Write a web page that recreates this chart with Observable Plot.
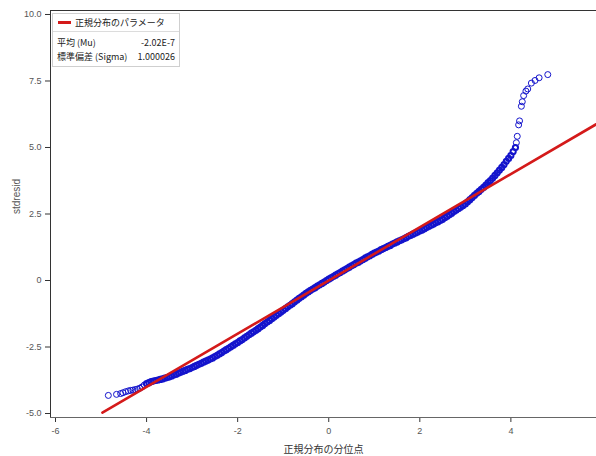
<!DOCTYPE html>
<html>
<head>
<meta charset="utf-8">
<script src="https://cdn.jsdelivr.net/npm/d3@7"></script>
<script src="https://cdn.jsdelivr.net/npm/@observablehq/plot@0.6"></script>
<style>
  html, body { margin: 0; padding: 0; background: #fff; }
  #wrap { position: relative; width: 596px; height: 456px; overflow: hidden; font-family: "Liberation Sans", "Noto Sans CJK JP", sans-serif; }
  #legend { position: absolute; left: 52px; top: 13px; width: 128px; height: 54px; border: 1px solid #cfcfcf; background: #fff; font-family: "Noto Sans CJK JP", sans-serif; font-size: 9px; color: #222; box-sizing: border-box; }
  #legend .hdr { position: absolute; left: 0; top: 0; width: 100%; height: 17px; border-bottom: 1px solid #dcdcdc; }
  #legend .swatch { position: absolute; left: 5px; top: 7px; width: 13px; height: 3px; background: #d41a1a; }
  #legend .hdr span { position: absolute; left: 22px; top: 2px; white-space: nowrap; }
  #legend .row { position: absolute; left: 4px; right: 4px; height: 12px; white-space: nowrap; }
  #legend .row .k { position: absolute; left: 0; }
  #legend .row .v { position: absolute; right: 0; }
</style>
</head>
<body>
<div id="wrap"></div>
<script>
// Sparse lower tail: theoretical normal quantiles and studentized residuals
const lowTailQ = [-4.84, -4.66, -4.57, -4.52, -4.46, -4.40, -4.35, -4.30, -4.25, -4.20, -4.15, -4.10, -4.05];
const lowTailR = [-4.32, -4.28, -4.25, -4.22, -4.18, -4.15, -4.13, -4.12, -4.10, -4.08, -4.05, -4.00, -3.93];

// Dense body of the Q-Q cloud
const bodyQ = [
  -4.00, -3.95, -3.90, -3.85, -3.80, -3.75, -3.70, -3.65, -3.60, -3.55, -3.50, -3.45, -3.40, -3.35, -3.30, -3.25, -3.20, -3.15, -3.10, -3.05,
  -3.00, -2.95, -2.90, -2.85, -2.80, -2.75, -2.70, -2.65, -2.60, -2.55, -2.50, -2.45, -2.40, -2.35, -2.30, -2.25, -2.20, -2.15, -2.10, -2.05,
  -2.00, -1.95, -1.90, -1.85, -1.80, -1.75, -1.70, -1.65, -1.60, -1.55, -1.50, -1.45, -1.40, -1.35, -1.30, -1.25, -1.20, -1.15, -1.10, -1.05,
  -1.00, -0.95, -0.90, -0.85, -0.80, -0.75, -0.70, -0.65, -0.60, -0.55, -0.50, -0.45, -0.40, -0.35, -0.30, -0.25, -0.20, -0.15, -0.10, -0.05,
  0.00, 0.05, 0.10, 0.15, 0.20, 0.25, 0.30, 0.35, 0.40, 0.45, 0.50, 0.55, 0.60, 0.65, 0.70, 0.75, 0.80, 0.85, 0.90, 0.95,
  1.00, 1.05, 1.10, 1.15, 1.20, 1.25, 1.30, 1.35, 1.40, 1.45, 1.50, 1.55, 1.60, 1.65, 1.70, 1.75, 1.80, 1.85, 1.90, 1.95,
  2.00, 2.05, 2.10, 2.15, 2.20, 2.25, 2.30, 2.35, 2.40, 2.45, 2.50, 2.55, 2.60, 2.65, 2.70, 2.75, 2.80, 2.85, 2.90, 2.95,
  3.00, 3.05, 3.10, 3.15, 3.20, 3.25, 3.30, 3.35, 3.40, 3.45, 3.50, 3.55, 3.60, 3.65, 3.70, 3.75, 3.80, 3.85, 3.90, 3.95,
  4.00, 4.05, 4.10
];
const bodyR = [
  -3.88, -3.84, -3.80, -3.78, -3.76, -3.74, -3.72, -3.70, -3.67, -3.65, -3.62, -3.59, -3.55, -3.52, -3.48, -3.45, -3.41, -3.38, -3.34, -3.31,
  -3.27, -3.23, -3.19, -3.15, -3.11, -3.07, -3.03, -2.99, -2.95, -2.91, -2.86, -2.81, -2.76, -2.71, -2.65, -2.60, -2.55, -2.49, -2.44, -2.38,
  -2.33, -2.27, -2.22, -2.16, -2.10, -2.04, -1.98, -1.93, -1.87, -1.81, -1.75, -1.69, -1.62, -1.56, -1.50, -1.44, -1.37, -1.31, -1.25, -1.18,
  -1.12, -1.06, -0.99, -0.93, -0.87, -0.80, -0.74, -0.67, -0.61, -0.55, -0.48, -0.43, -0.37, -0.32, -0.27, -0.21, -0.16, -0.11, -0.06, 0.00,
  0.05, 0.10, 0.15, 0.20, 0.25, 0.30, 0.35, 0.40, 0.45, 0.50, 0.55, 0.60, 0.65, 0.69, 0.74, 0.79, 0.84, 0.89, 0.93, 0.98,
  1.03, 1.07, 1.11, 1.16, 1.20, 1.24, 1.28, 1.32, 1.37, 1.41, 1.45, 1.49, 1.53, 1.57, 1.61, 1.66, 1.70, 1.74, 1.78, 1.82,
  1.86, 1.90, 1.95, 1.99, 2.04, 2.08, 2.12, 2.17, 2.21, 2.26, 2.30, 2.36, 2.42, 2.47, 2.53, 2.59, 2.65, 2.71, 2.76, 2.82,
  2.88, 2.96, 3.04, 3.12, 3.20, 3.28, 3.35, 3.43, 3.50, 3.59, 3.68, 3.76, 3.85, 3.95, 4.05, 4.15, 4.25, 4.36, 4.48, 4.59,
  4.70, 4.85, 5.00
];

// Sparse upper tail
const highTailQ = [4.12, 4.14, 4.17, 4.19, 4.23, 4.25, 4.28, 4.33, 4.37, 4.45, 4.53, 4.62, 4.81];
const highTailR = [5.18, 5.42, 5.85, 6.00, 6.55, 6.72, 6.95, 7.12, 7.20, 7.42, 7.52, 7.62, 7.74];

// Normal reference line (Mu ≈ 0, Sigma ≈ 1) endpoints
const refLineX = [-4.97, 6.0];
const refLineY = [-4.97, 6.0];

const xTicks = [-6, -4, -2, 0, 2, 4];
const yTicks = [-5, -2.5, 0, 2.5, 5, 7.5, 10];

const legendTitle = "正規分布のパラメータ";
const legendKeys = ["平均 (Mu)", "標準偏差 (Sigma)"];
const legendVals = ["-2.02E-7", "1.000026"];

const xLabel = "正規分布の分位点";
const yLabel = "stdresid";

const toPts = (qs, rs) => qs.map((q, i) => ({q, r: rs[i]}));
const tails = toPts(lowTailQ, lowTailR).concat(toPts(highTailQ, highTailR));
const body = toPts(bodyQ, bodyR);
const refLine = refLineX.map((x, i) => ({x, y: refLineY[i]}));

const xDomain = [-6.11, 5.88];
const yDomain = [-5.15, 10.15];
const blue = "#1414cc";

const chart = Plot.plot({
  width: 596,
  height: 456,
  marginLeft: 50,
  marginRight: 0,
  marginTop: 10,
  marginBottom: 39,
  style: {fontFamily: "'Liberation Sans', 'Noto Sans CJK JP', sans-serif", fontSize: "9px", color: "#555", background: "#fff"},
  x: {domain: xDomain, label: null},
  y: {domain: yDomain, label: null},
  marks: [
    Plot.axisX({ticks: xTicks, tickFormat: d => String(d), tickSize: 5, tickPadding: 5, fill: "#555", stroke: "#333", label: null}),
    Plot.axisY({ticks: yTicks, tickFormat: d => d === 0 ? "0" : d.toFixed(1), tickSize: 5, tickPadding: 4, fill: "#555", stroke: "#333", label: null}),
    Plot.ruleY([yDomain[1]], {stroke: "#333", strokeWidth: 1}),
    Plot.ruleY([yDomain[0]], {stroke: "#666", strokeWidth: 1}),
    Plot.ruleX([xDomain[0]], {stroke: "#333", strokeWidth: 1}),
    Plot.dot(tails, {x: "q", y: "r", r: 3, stroke: blue, strokeWidth: 1, fill: "none"}),
    Plot.dot(body, {x: "q", y: "r", r: 2.6, stroke: blue, strokeWidth: 2, fill: "none"}),
    Plot.line(refLine, {x: "x", y: "y", stroke: "#d41a1a", strokeWidth: 2.6, clip: true}),
    Plot.text([xLabel], {frameAnchor: "bottom", dy: 35, text: d => d, fontSize: 10, fill: "#333", fontFamily: "'Noto Sans CJK JP', sans-serif"}),
    Plot.text([yLabel], {frameAnchor: "left", dx: -34, rotate: -90, text: d => d, fontSize: 10, fill: "#555"})
  ]
});

const wrap = document.getElementById("wrap");
wrap.appendChild(chart);

const lg = document.createElement("div");
lg.id = "legend";
lg.innerHTML = `<div class="hdr"><div class="swatch"></div><span>${legendTitle}</span></div>` +
  legendKeys.map((k, i) => `<div class="row" style="top:${22 + i * 14}px"><span class="k">${k}</span><span class="v">${legendVals[i]}</span></div>`).join("");
wrap.appendChild(lg);
</script>
</body>
</html>
